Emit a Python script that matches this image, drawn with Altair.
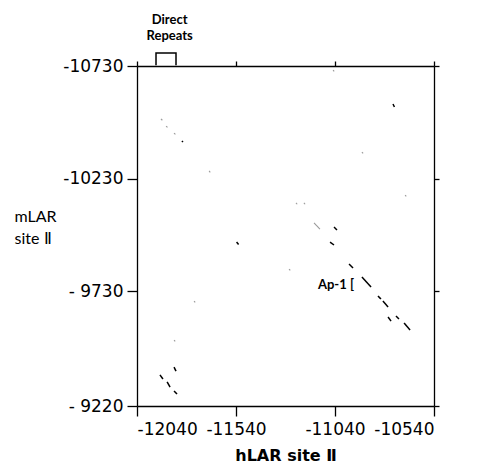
import altair as alt
import pandas as pd

x_ticks = [-12040, -11540, -11040, -10540]
y_ticks = [-10730, -10230, -9730, -9220]

# strong matches (diagonal segments): start / end
strong_x1 = [-11045, -11065, -10969, -10904, -10823, -10798, -10772, -10732, -10691,
             -11853, -11924, -11888, -11853, -10747, -11813, -11537]
strong_y1 = [-10015, -9948, -9851, -9793, -9709, -9686, -9615, -9620, -9589,
             -9393, -9358, -9327, -9287, -10561, -10397, -9948]
strong_x2 = [-11030, -11045, -10949, -10858, -10808, -10772, -10757, -10717, -10661,
             -11843, -11909, -11873, -11838, -10740, -11808, -11527]
strong_y2 = [-10002, -9935, -9833, -9748, -9695, -9660, -9597, -9606, -9558,
             -9375, -9340, -9304, -9273, -10548, -10392, -9937]

# weak matches
faint_x1 = [-11146, -11919, -11893, -11853, -11676, -11050, -10904, -10686, -11272,
            -11752, -11853, -10818, -11237, -11197]
faint_y1 = [-10033, -10495, -10463, -10432, -10264, -10712, -10348, -10157, -9828,
            -9686, -9513, -9704, -10122, -10122]
faint_x2 = [-11116, -11912, -11886, -11846, -11670, -11044, -10898, -10680, -11266,
            -11746, -11847, -10812, -11231, -11191]
faint_y2 = [-10006, -10489, -10457, -10426, -10258, -10706, -10342, -10151, -9822,
            -9680, -9507, -9698, -10116, -10116]

bracket_x = [-11944, -11944, -11843, -11843]
bracket_y = [-10733, -10788, -10788, -10733]

repeat_text = ["Direct", "Repeats"]
repeat_x = [-11875, -11875]
repeat_y = [-10936, -10863]

ap1_text = ["Ap-1 ["]
ap1_x = [-11126]
ap1_y = [-9757]

strong_df = pd.DataFrame({"x1": strong_x1, "y1": strong_y1, "x2": strong_x2, "y2": strong_y2})
faint_df = pd.DataFrame({"x1": faint_x1, "y1": faint_y1, "x2": faint_x2, "y2": faint_y2})
bracket_df = pd.DataFrame({"x": bracket_x, "y": bracket_y, "o": list(range(len(bracket_x)))})
repeat_df = pd.DataFrame({"t": repeat_text, "x": repeat_x, "y": repeat_y})
ap1_df = pd.DataFrame({"t": ap1_text, "x": ap1_x, "y": ap1_y})

xs = alt.Scale(domain=[-12040, -10540], nice=False, zero=False)
ys = alt.Scale(domain=[-10730, -9220], nice=False, zero=False, reverse=True)

common = dict(domainColor="black", tickColor="black", labelColor="black",
              domainWidth=1.3, tickWidth=1.3, grid=False)

LABEL_FONT = "DejaVu Sans"

bottom_axis = alt.Axis(orient="bottom", values=x_ticks, tickSize=10,
                       labelExpr="'' + datum.value", labelFont=LABEL_FONT, labelFontSize=17,
                       labelPadding=5, title="hLAR site Ⅱ", titleFont="DejaVu Sans",
                       titleFontSize=16, titleFontWeight="bold", titlePadding=10,
                       titleColor="black", **common)
left_axis = alt.Axis(orient="left", values=y_ticks, tickSize=10,
                     labelExpr="datum.value > -10000 ? '- ' + abs(datum.value) : '' + datum.value",
                     labelFont=LABEL_FONT, labelFontSize=17, labelPadding=4,
                     title=["mLAR", "site Ⅱ"], titleAngle=0, titleAlign="left",
                     titleBaseline="middle", titleX=-123, titleY=150,
                     titleFont="Lato", titleFontSize=16, titleFontWeight="normal",
                     titleLineHeight=22, titleColor="black", **common)
top_axis = alt.Axis(orient="top", values=x_ticks, tickSize=5, labels=False,
                    title=None, **common)
right_axis = alt.Axis(orient="right", values=y_ticks, tickSize=5, labels=False,
                      title=None, **common)

strong = alt.Chart(strong_df).mark_rule(color="black", strokeWidth=1.5).encode(
    x=alt.X("x1:Q", scale=xs, axis=bottom_axis),
    y=alt.Y("y1:Q", scale=ys, axis=left_axis),
    x2="x2:Q", y2="y2:Q")

faint = alt.Chart(faint_df).mark_rule(color="#9a9a9a", strokeWidth=1.1).encode(
    x=alt.X("x1:Q", scale=xs, axis=top_axis),
    y=alt.Y("y1:Q", scale=ys, axis=right_axis),
    x2="x2:Q", y2="y2:Q")

bracket = alt.Chart(bracket_df).mark_line(color="black", strokeWidth=1.5).encode(
    x=alt.X("x:Q", scale=xs, axis=None),
    y=alt.Y("y:Q", scale=ys, axis=None),
    order="o:Q")

repeats = alt.Chart(repeat_df).mark_text(
    font="Lato", fontSize=13, fontWeight="bold", color="black",
    baseline="middle", align="center").encode(
    x=alt.X("x:Q", scale=xs, axis=None),
    y=alt.Y("y:Q", scale=ys, axis=None),
    text="t:N")

ap1 = alt.Chart(ap1_df).mark_text(
    font="Lato", fontSize=13, fontWeight="bold", color="black",
    baseline="middle", align="left").encode(
    x=alt.X("x:Q", scale=xs, axis=None),
    y=alt.Y("y:Q", scale=ys, axis=None),
    text="t:N")

chart = alt.layer(faint, strong, bracket, repeats, ap1).resolve_axis(
    x="independent", y="independent").properties(
    width=297, height=340,
    autosize=alt.AutoSizeParams(type="none"),
    padding={"left": 129, "top": 58, "right": 35, "bottom": 60},
    background="white",
).configure_view(strokeWidth=0)

chart.save("out.html", embed_options={"renderer": "svg", "actions": False})
